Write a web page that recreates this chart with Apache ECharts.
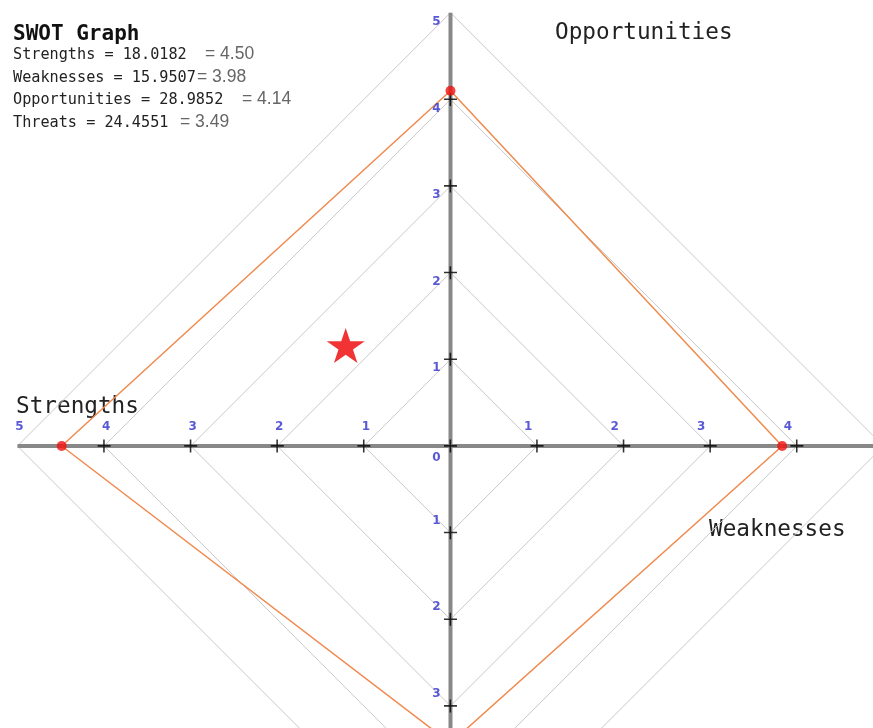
<!DOCTYPE html>
<html>
<head>
<meta charset="utf-8">
<script src="https://cdn.jsdelivr.net/npm/echarts@6/dist/echarts.min.js"></script>
<style>
html,body{margin:0;padding:0;background:#fff;}
#chart{width:873px;height:728px;}
</style>
</head>
<body>
<div id="chart"></div>
<script>
// ---- data ----
const quadrantNames = ['Strengths', 'Weaknesses', 'Opportunities', 'Threats'];
const rawTotals = [18.0182, 15.9507, 28.9852, 24.4551];
const reportedScores = ['4.50', '3.98', '4.14', '3.49'];
// positions of the plotted points
const plottedScores = [4.49, 3.83, 4.10, 3.43];
const ringRadii = [1, 2, 3, 4, 5];
const hTickValues = [-4, -3, -2, -1, 0, 1, 2, 3, 4];
const vTickValues = [-3, -2, -1, 1, 2, 3, 4];
const hLabelValues = [-5, -4, -3, -2, -1, 1, 2, 3, 4, 5];
const vLabelValues = [-3, -2, -1, 1, 2, 3, 4, 5];
const zeroLabel = [0];
const starPoint = [-1.21, 1.16];

// ---- build ----
const S = plottedScores[0], W = plottedScores[1], O = plottedScores[2], T = plottedScores[3];
const polygon = [[-S, 0], [0, O], [W, 0], [0, -T], [-S, 0]];
const vertices = [[-S, 0], [0, O], [W, 0], [0, -T]];

const series = [];
ringRadii.forEach(r => {
  series.push({
    type: 'line', silent: true, symbol: 'none', z: 1,
    data: [[r, 0], [0, r], [-r, 0], [0, -r], [r, 0]],
    lineStyle: { color: '#c9c9c9', width: 1 }
  });
});
series.push({
  type: 'line', silent: true, symbol: 'none', z: 2,
  data: [[-5, 0], [6, 0]],
  lineStyle: { color: '#888888', width: 4 }
});
series.push({
  type: 'line', silent: true, symbol: 'none', z: 2,
  data: [[0, 5], [0, -4]],
  lineStyle: { color: '#888888', width: 4 }
});
series.push({
  type: 'line', silent: true, symbol: 'none', z: 3,
  data: polygon,
  lineStyle: { color: '#f08a4e', width: 1.5 }
});
const plusPath = 'path://M6,0H7.7V6H14V7.7H7.7V14H6V7.7H0V6H6Z';
series.push({
  type: 'scatter', silent: true, symbol: plusPath, symbolSize: 13, z: 6,
  itemStyle: { color: '#000' },
  data: hTickValues.map(v => [v, 0]).concat(vTickValues.map(v => [0, v]))
});
series.push({
  type: 'scatter', silent: true, symbol: 'circle', symbolSize: 10, z: 7,
  itemStyle: { color: '#ee1111' },
  data: vertices
});
const labelFont = { color: '#2f2fcc', fontSize: 12, fontWeight: 'bold', fontFamily: 'DejaVu Sans' };
const labelData = []
  .concat(hLabelValues.map(v => ({ value: [v, 0], label: { offset: v > 0 ? [-9, -19] : [2, -19] } })))
  .concat(vLabelValues.map(v => ({ value: [0, v], label: { offset: v > 0 ? [-14, 9] : [-14, -12] } })))
  .concat(zeroLabel.map(v => ({ value: [v, 0], label: { offset: [-14, 12] } })));
series.push({
  type: 'scatter', silent: true, symbolSize: 0, z: 8,
  label: Object.assign({ show: true, position: 'inside',
    formatter: p => String(Math.abs(p.value[0] !== 0 ? p.value[0] : p.value[1])) }, labelFont),
  data: labelData
});
const starPath = 'path://M50,0L61.2,34.5L97.6,34.5L68.2,55.9L79.4,90.5L50,69.1L20.6,90.5L31.8,55.9L2.4,34.5L38.8,34.5Z';
series.push({
  type: 'scatter', silent: true, symbol: starPath, symbolSize: [38, 35], z: 8,
  itemStyle: { color: '#ee0000' },
  data: [starPoint]
});

const mono = '"DejaVu Sans Mono", "Liberation Mono", monospace';
const graphic = [
  { type: 'text', left: 13, top: 24, style: { text: 'SWOT Graph', font: 'bold 21px ' + mono, fill: '#111' } },
  { type: 'text', left: 555, top: 22, style: { text: quadrantNames[2], font: '22.7px ' + mono, fill: '#222' } },
  { type: 'text', left: 16, top: 396, style: { text: quadrantNames[0], font: '22.7px ' + mono, fill: '#222' } },
  { type: 'text', left: 709, top: 519, style: { text: quadrantNames[1], font: '22.7px ' + mono, fill: '#222' } }
];
const lineTops = [48, 71, 93, 116];
const scoreLefts = [205, 197, 242, 180];
const scoreTops = [45, 68, 90, 113];
quadrantNames.forEach((n, i) => {
  graphic.push({ type: 'text', left: 13, top: lineTops[i],
    style: { text: n + ' = ' + rawTotals[i].toFixed(4), font: '15.2px ' + mono, fill: '#222' } });
  graphic.push({ type: 'text', left: scoreLefts[i], top: scoreTops[i],
    style: { text: '= ' + reportedScores[i], font: '17.5px "Liberation Sans", sans-serif', fill: '#666' } });
});

const chart = echarts.init(document.getElementById('chart'), null, { renderer: 'canvas' });
chart.setOption({
  animation: false,
  backgroundColor: '#ffffff',
  grid: { left: 0, right: 0, top: 0, bottom: 0 },
  xAxis: { type: 'value', min: -5.202, max: 4.879, show: false },
  yAxis: { type: 'value', min: -3.254, max: 5.147, show: false },
  series: series,
  graphic: graphic
});
</script>
</body>
</html>
